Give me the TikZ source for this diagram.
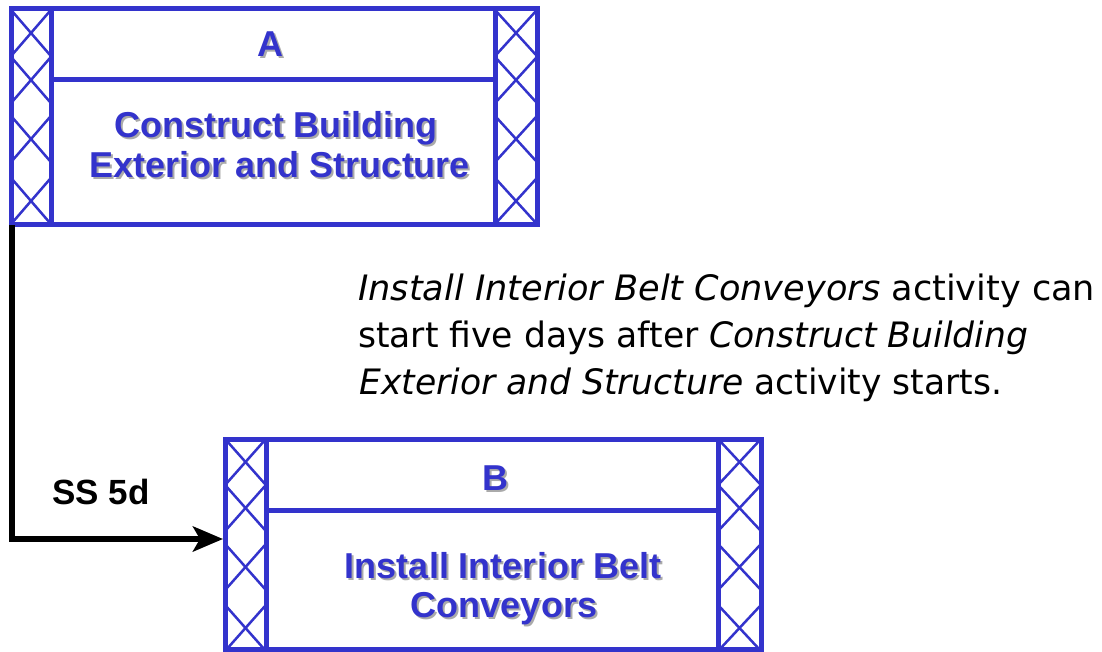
\documentclass[tikz,border=0pt]{standalone}
\usepackage{fontspec}
\usepackage{graphicx}
\usetikzlibrary{arrows.meta,calc}
\newfontfamily\lsans{Liberation Sans}
\newfontfamily\dvs{DejaVu Sans}
\definecolor{actblue}{RGB}{51,51,204}
\definecolor{shgray}{RGB}{170,170,170}
\newcommand\actlabel[4]{%
  \node[shd] (#1s) at ($(#2,#3)+(2,2)$) {#4};
  \node[lbl] (#1) at (#2,#3) {#4};}
\newcommand\hatchcol[3]{% xl, xr, list of (top,bottom)
  \foreach \ya/\yb in {#3}{
    \draw[hatch] (#1,\ya) -- (#2,\yb);
    \draw[hatch] (#2,\ya) -- (#1,\yb);
  }}
\begin{document}
\begin{tikzpicture}[x=1pt,y=-1pt,
  box/.style={draw=actblue,line width=5pt,inner sep=0pt,outer sep=0pt,rectangle,fill=white},
  edge/.style={actblue,line width=5pt},
  hatch/.style={actblue,line width=2.5pt},
  lbl/.style={font=\lsans\bfseries\fontsize{36}{42}\selectfont,text=actblue,anchor=base,inner sep=0pt},
  shd/.style={lbl,text=shgray},
  conn/.style={line width=6pt,-{Stealth[length=30pt,width=25pt,inset=7pt]}},
  note/.style={font=\dvs\fontsize{35}{40}\selectfont,anchor=base west,inner sep=0pt}]
\useasboundingbox (0,0) rectangle (1102,652);

% Activity A
\node[box,minimum width=526pt,minimum height=216pt] (A) at (274,117) {};
\hatchcol{12}{50}{11/55,58/102,117/161,179/223}
\hatchcol{496}{536}{11/55,58/102,117/161,179/223}
\draw[edge] ([xshift=40pt]A.north west) -- ([xshift=40pt]A.south west);
\draw[edge] ([xshift=-42pt]A.north east) -- ([xshift=-42pt]A.south east);
\draw[edge] ([xshift=40pt,yshift=-71pt]A.north west) -- ([xshift=-42pt,yshift=-71pt]A.north east);
\draw[edge] (A.north west) rectangle (A.south east);

% Activity B
\node[box,minimum width=536pt,minimum height=210pt] (B) at (493,544) {};
\hatchcol{226}{265}{440/484,486/530,545/589,606/650}
\hatchcol{719}{760}{440/484,486/530,545/589,606/650}
\draw[edge] ([xshift=41pt]B.north west) -- ([xshift=41pt]B.south west);
\draw[edge] ([xshift=-43pt]B.north east) -- ([xshift=-43pt]B.south east);
\draw[edge] ([xshift=41pt,yshift=-71pt]B.north west) -- ([xshift=-43pt,yshift=-71pt]B.north east);
\draw[edge] (B.north west) rectangle (B.south east);

% Labels
\actlabel{la}{270}{57}{A}
\actlabel{la1}{276}{138}{Construct Building}
\actlabel{la2}{280}{178}{Exterior and Structure}
\actlabel{lb}{495}{490}{B}
\actlabel{lb1}{503}{578}{Install Interior Belt}
\actlabel{lb2}{504}{617}{Conveyors}

% Connector
\draw[conn,shorten >=2pt] ([xshift=1pt]A.south west) |- ([yshift=5pt]B.west);
\node[font=\lsans\bfseries\fontsize{35}{40}\selectfont,anchor=base,inner sep=0pt] (ss) at (101,504) {SS 5d};

% Note
\node[note] (n1) at (358,300) {\resizebox{737pt}{\height}{{\itshape Install Interior Belt Conveyors} activity can}};
\node[note] (n2) at (358,347) {\resizebox{670pt}{\height}{start five days after {\itshape Construct Building}}};
\node[note] (n3) at (359,394) {\resizebox{643pt}{\height}{{\itshape Exterior and Structure} activity starts.}};
\end{tikzpicture}
\end{document}
